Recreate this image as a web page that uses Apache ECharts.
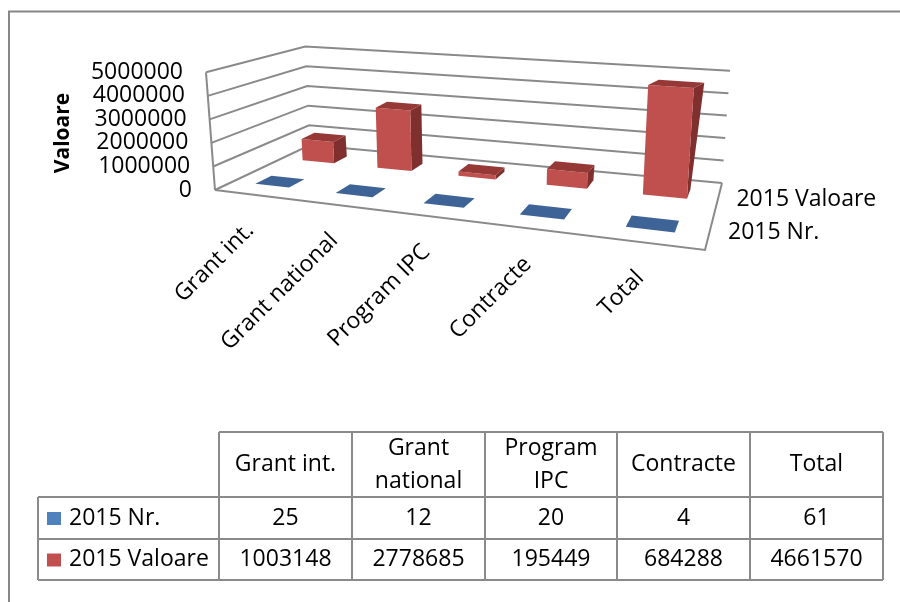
<!DOCTYPE html>
<html><head><meta charset="utf-8">
<script src="https://cdn.jsdelivr.net/npm/echarts@6/dist/echarts.min.js"></script>
<style>html,body{margin:0;padding:0;background:#fff}#c{width:900px;height:602px}</style>
</head><body><div id="c"></div>
<script>
// ---------- data ----------
const categories = ['Grant int.', 'Grant national', 'Program IPC', 'Contracte', 'Total'];
const tableHeaders = ['Grant int.', 'Grant\nnational', 'Program\nIPC', 'Contracte', 'Total'];
const seriesNames = ['2015 Nr.', '2015 Valoare'];
const nrValues = [25, 12, 20, 4, 61];
const valoareValues = [1003148, 2778685, 195449, 684288, 4661570];
const valueTicks = [0, 1000000, 2000000, 3000000, 4000000, 5000000];
const axisTitle = 'Valoare';

// ---------- layout / style ----------
const FONT = '23px "Open Sans"';
const GRID_COLOR = '#8a8a8a';
const P0 = [215, 190], P1 = [705, 250], P2 = [722, 183], P3 = [310, 145]; // floor corners FL, FR, BR, BL
const HFL = 118;          // full axis height in px at front-left corner
const HG = -0.15, HH = 0.198; // height foreshortening
const VP = [477, 3619];   // vertical vanishing point
const DTOP = [11, -5];    // depth vector for bar tops at full height
const BAR_W = 0.43, BAR_D = 0.16, ROW_V = [0.25, 0.75];
const COLORS = [
  {front: '#4F81BD', side: '#2E4E78', top: '#3E6396'},
  {front: '#C0504D', side: '#7F2F2D', top: '#953836'}
];

function makeH(p0, p1, p2, p3) {
  const sx = p0[0] - p1[0] + p2[0] - p3[0], sy = p0[1] - p1[1] + p2[1] - p3[1];
  const dx1 = p1[0] - p2[0], dx2 = p3[0] - p2[0], dy1 = p1[1] - p2[1], dy2 = p3[1] - p2[1];
  const det = dx1 * dy2 - dx2 * dy1;
  const g = (sx * dy2 - dx2 * sy) / det, h = (dx1 * sy - sx * dy1) / det;
  return {a: p1[0] - p0[0] + g * p1[0], b: p3[0] - p0[0] + h * p3[0], c: p0[0],
          d: p1[1] - p0[1] + g * p1[1], e: p3[1] - p0[1] + h * p3[1], f: p0[1], g, h};
}
const HM = makeH(P0, P1, P2, P3);
function proj(u, v, h) {
  const den = HM.g * u + HM.h * v + 1;
  const bx = (HM.a * u + HM.b * v + HM.c) / den, by = (HM.d * u + HM.e * v + HM.f) / den;
  const len = HFL * h / (1 + HG * u + HH * v);
  const dx = VP[0] - bx, dy = VP[1] - by, n = Math.hypot(dx, dy);
  return [bx - dx / n * len, by - dy / n * len];
}
function add(p, d) { return [p[0] + d[0], p[1] + d[1]]; }
function dvec(u, vf, vb, h) {
  const a = proj(u, vf, 0), b = proj(u, vb, 0);
  return [(b[0] - a[0]) * (1 - h) + DTOP[0] * h, (b[1] - a[1]) * (1 - h) + DTOP[1] * h];
}
function hFrac(api, cs, v) {
  return (cs.y + cs.height - api.coord([0, v])[1]) / cs.height;
}

function barSeries(si, values) {
  return {
    type: 'custom', name: seriesNames[si], clip: false, silent: true,
    data: values.map((v, i) => [i, v]),
    renderItem: function (params, api) {
      const cs = params.coordSys;
      const i = api.value(0), val = api.value(1);
      const uc = (api.coord([i, 0])[0] - cs.x) / cs.width;
      const bw = api.size([1, 0])[0] / cs.width;
      const h = hFrac(api, cs, val);
      const u0 = uc - bw * BAR_W / 2, u1 = uc + bw * BAR_W / 2;
      const vf = ROW_V[si] - BAR_D / 2, vb = ROW_V[si] + BAR_D / 2;
      const A = proj(u0, vf, 0), B = proj(u1, vf, 0), C = proj(u1, vf, h), D = proj(u0, vf, h);
      const d1b = dvec(u1, vf, vb, 0), d1t = dvec(u1, vf, vb, h), d0t = dvec(u0, vf, vb, h);
      const col = COLORS[si];
      return {type: 'group', children: [
        {type: 'polygon', shape: {points: [B, add(B, d1b), add(C, d1t), C]}, style: {fill: col.side}},
        {type: 'polygon', shape: {points: [A, B, C, D]}, style: {fill: col.front}},
        {type: 'polygon', shape: {points: [D, C, add(C, d1t), add(D, d0t)]}, style: {fill: col.top}}
      ]};
    }
  };
}

const wallSeries = {
  type: 'custom', clip: false, silent: true,
  data: valueTicks.map(t => [0, t]),
  renderItem: function (params, api) {
    const cs = params.coordSys;
    const t = api.value(1);
    const h = hFrac(api, cs, t);
    const ls = {stroke: GRID_COLOR, lineWidth: 2, fill: null};
    const ch = [
      {type: 'polyline', shape: {points: [proj(0, 0, h), proj(0, 1, h), proj(1, 1, h)]}, style: ls},
      {type: 'text', x: proj(0, 0, h)[0] - 23, y: proj(0, 0, h)[1],
       style: {text: String(t), font: FONT, fill: '#000', align: 'right', verticalAlign: 'middle'}}
    ];
    if (params.dataIndex === 0) {
      ch.push({type: 'polyline', shape: {points: [proj(0, 0, 0), proj(1, 0, 0), proj(1, 1, 0)]}, style: ls});
    }
    if (params.dataIndex === valueTicks.length - 1) {
      ch.push({type: 'line', shape: {x1: proj(0, 0, 0)[0], y1: proj(0, 0, 0)[1], x2: proj(0, 0, h)[0], y2: proj(0, 0, h)[1]}, style: ls});
    }
    return {type: 'group', children: ch};
  }
};

const catLabelSeries = {
  type: 'custom', clip: false, silent: true,
  data: categories.map((c, i) => [i, 0]),
  renderItem: function (params, api) {
    const cs = params.coordSys;
    const i = api.value(0);
    const uc = (api.coord([i, 0])[0] - cs.x) / cs.width;
    const p = proj(uc, 0, 0);
    return {type: 'text', x: p[0] - 4, y: p[1] + 32, rotation: Math.PI / 4,
            style: {text: categories[i], font: FONT, fill: '#000', align: 'right', verticalAlign: 'middle'}};
  }
};

const seriesLabelSeries = {
  type: 'custom', clip: false, silent: true,
  data: seriesNames.map((s, i) => [0, i]),
  renderItem: function (params, api) {
    const si = params.dataIndex;
    const p = proj(1, ROW_V[si], 0);
    return {type: 'text', x: p[0] + 18, y: p[1] + 2,
            style: {text: seriesNames[si], font: FONT, fill: '#000', align: 'left', verticalAlign: 'middle'}};
  }
};

// ---------- table ----------
const COLS = [219, 352, 485, 617, 750, 883];
const ROWS = [432, 497, 539, 580];
const TABLE_LEFT = 38;
const tableRows = [nrValues, valoareValues];
const g = [];
const tl = {stroke: GRID_COLOR, lineWidth: 2};
g.push({type: 'rect', shape: {x: 9, y: 11.5, width: 900, height: 600}, style: {fill: null, stroke: '#878787', lineWidth: 2}});
g.push({type: 'text', x: 63, y: 133, rotation: Math.PI / 2,
        style: {text: axisTitle, font: 'bold 21px "Open Sans"', fill: '#000', align: 'center', verticalAlign: 'middle'}});
g.push({type: 'line', shape: {x1: COLS[0], y1: ROWS[0], x2: COLS[5], y2: ROWS[0]}, style: tl});
for (let r = 1; r < ROWS.length; r++) g.push({type: 'line', shape: {x1: TABLE_LEFT, y1: ROWS[r], x2: COLS[5], y2: ROWS[r]}, style: tl});
g.push({type: 'line', shape: {x1: TABLE_LEFT, y1: ROWS[1], x2: TABLE_LEFT, y2: ROWS[3]}, style: tl});
for (let c = 0; c < COLS.length; c++) g.push({type: 'line', shape: {x1: COLS[c], y1: ROWS[0], x2: COLS[c], y2: ROWS[3]}, style: tl});
tableHeaders.forEach((h, i) => {
  g.push({type: 'text', x: (COLS[i] + COLS[i + 1]) / 2, y: (ROWS[0] + ROWS[1]) / 2,
          style: {text: h, font: FONT, lineHeight: 33, fill: '#000', align: 'center', verticalAlign: 'middle'}});
});
tableRows.forEach((vals, r) => {
  const cy = (ROWS[r + 1] + ROWS[r + 2]) / 2;
  g.push({type: 'rect', shape: {x: 47, y: cy - 6, width: 14, height: 13}, style: {fill: COLORS[r].front}});
  g.push({type: 'text', x: 69, y: cy, style: {text: seriesNames[r], font: FONT, fill: '#000', align: 'left', verticalAlign: 'middle'}});
  vals.forEach((v, i) => {
    g.push({type: 'text', x: (COLS[i] + COLS[i + 1]) / 2, y: cy,
            style: {text: String(v), font: FONT, fill: '#000', align: 'center', verticalAlign: 'middle'}});
  });
});

const chart = echarts.init(document.getElementById('c'), null, {renderer: 'canvas'});
chart.setOption({
  animation: false,
  backgroundColor: '#fff',
  grid: {left: 0, right: 0, top: 0, bottom: 0},
  xAxis: {type: 'category', data: categories, show: false, boundaryGap: true},
  yAxis: {type: 'value', min: 0, max: 5000000, interval: 1000000, show: false},
  graphic: g,
  series: [wallSeries, barSeries(1, valoareValues), barSeries(0, nrValues), catLabelSeries, seriesLabelSeries]
});
</script></body></html>
